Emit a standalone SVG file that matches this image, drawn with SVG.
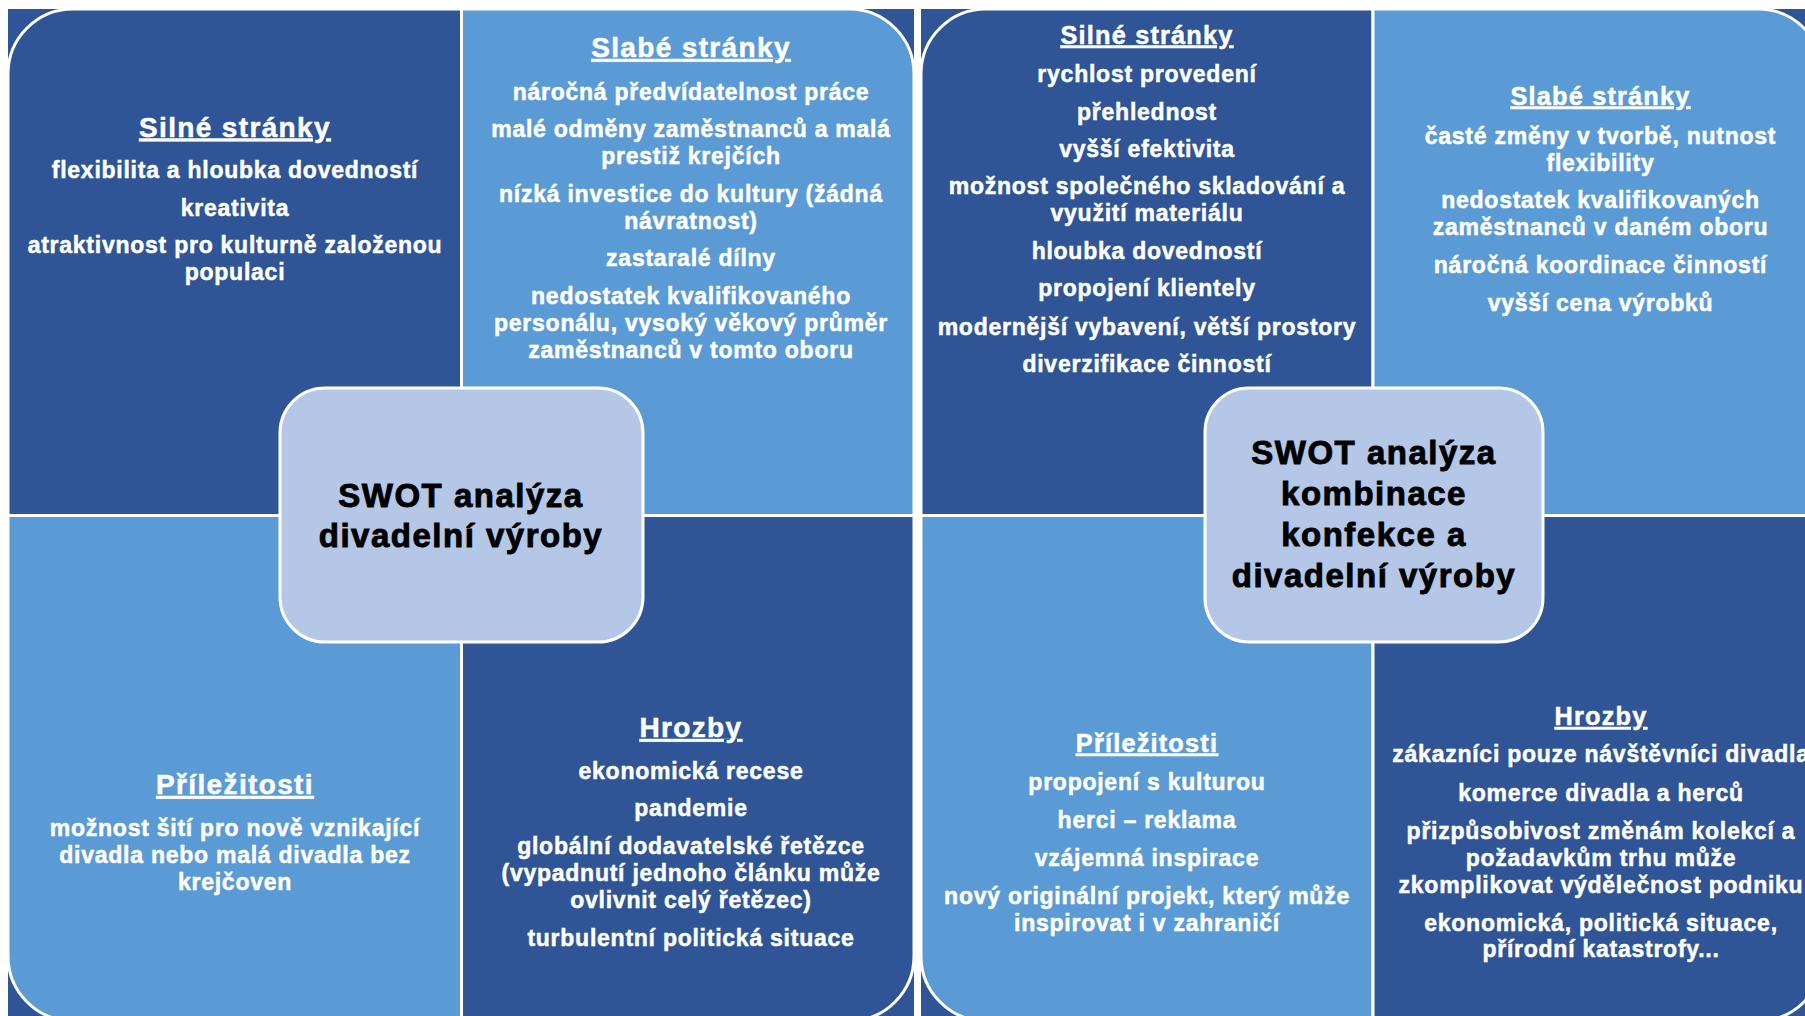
<svg xmlns="http://www.w3.org/2000/svg" width="1805" height="1016" viewBox="0 0 1805 1016">
<style>
.bg{fill:#2F5597}
.dk{fill:#2F5597;stroke:#fff;stroke-width:3}
.lt{fill:#5B9BD5;stroke:#fff;stroke-width:3}
.ctr{fill:#B4C7E7;stroke:#fff;stroke-width:3}
text{font-family:"Liberation Sans",Arial,sans-serif;font-weight:bold;text-anchor:middle}
.h{font-size:28px;letter-spacing:1.35px;fill:#fff;stroke:#fff;stroke-width:0.5px;text-decoration:underline}
.hr{font-size:25.3px;letter-spacing:1.2px}
.b{font-size:23px;letter-spacing:0.75px;fill:#fff;stroke:#fff;stroke-width:0.5px}
.c{font-size:33px;letter-spacing:1.5px;fill:#000;stroke:#000;stroke-width:0.9px}
</style>
<rect width="1805" height="1016" fill="#fff"/>

<g id="panel-left">
<rect class="bg" x="8" y="9" width="906" height="1012"/>
<g id="L-strengths">
<path class="dk" d="M8 74 A65 65 0 0 1 73 9 L461.5 9 L461.5 515.5 L8 515.5 Z"/>
<text class="h" x="235" y="136.5">Silné stránky</text>
<text class="b" x="235" y="178">flexibilita a hloubka dovedností</text>
<text class="b" x="235" y="215.5">kreativita</text>
<text class="b" x="235" y="253">atraktivnost pro kulturně založenou</text>
<text class="b" x="235" y="280">populaci</text>
</g>
<g id="L-weaknesses">
<path class="lt" d="M461.5 9 L849 9 A65 65 0 0 1 914 74 L914 515.5 L461.5 515.5 Z"/>
<text class="h" x="691" y="57">Slabé stránky</text>
<text class="b" x="691" y="100">náročná předvídatelnost práce</text>
<text class="b" x="691" y="137">malé odměny zaměstnanců a malá</text>
<text class="b" x="691" y="164">prestiž krejčích</text>
<text class="b" x="691" y="201.5">nízká investice do kultury (žádná</text>
<text class="b" x="691" y="228.5">návratnost)</text>
<text class="b" x="691" y="266">zastaralé dílny</text>
<text class="b" x="691" y="303.5">nedostatek kvalifikovaného</text>
<text class="b" x="691" y="330.5">personálu, vysoký věkový průměr</text>
<text class="b" x="691" y="357.5">zaměstnanců v tomto oboru</text>
</g>
<g id="L-opportunities">
<path class="lt" d="M8 515.5 L461.5 515.5 L461.5 1021 L73 1021 A65 65 0 0 1 8 956 Z"/>
<text class="h" x="235" y="794">Příležitosti</text>
<text class="b" x="235" y="836">možnost šití pro nově vznikající</text>
<text class="b" x="235" y="862.5">divadla nebo malá divadla bez</text>
<text class="b" x="235" y="889.5">krejčoven</text>
</g>
<g id="L-threats">
<path class="dk" d="M461.5 515.5 L914 515.5 L914 956 A65 65 0 0 1 849 1021 L461.5 1021 Z"/>
<text class="h" x="691" y="737">Hrozby</text>
<text class="b" x="691" y="778.5">ekonomická recese</text>
<text class="b" x="691" y="816">pandemie</text>
<text class="b" x="691" y="854">globální dodavatelské řetězce</text>
<text class="b" x="691" y="881">(vypadnutí jednoho článku může</text>
<text class="b" x="691" y="908">ovlivnit celý řetězec)</text>
<text class="b" x="691" y="945.5">turbulentní politická situace</text>
</g>
<g id="L-center">
<rect class="ctr" x="280" y="388" width="363" height="254" rx="45" ry="45"/>
<text class="c" x="461" y="506.5">SWOT analýza</text>
<text class="c" x="461" y="546.5">divadelní výroby</text>
</g>
</g>

<g id="panel-right">
<rect class="bg" x="921" y="9" width="902" height="1012"/>
<g id="R-strengths">
<path class="dk" d="M921 74 A65 65 0 0 1 986 9 L1373 9 L1373 515.5 L921 515.5 Z"/>
<text class="h hr" x="1147" y="43.5">Silné stránky</text>
<text class="b" x="1147" y="82">rychlost provedení</text>
<text class="b" x="1147" y="119.5">přehlednost</text>
<text class="b" x="1147" y="157">vyšší efektivita</text>
<text class="b" x="1147" y="194">možnost společného skladování a</text>
<text class="b" x="1147" y="221">využití materiálu</text>
<text class="b" x="1147" y="258.5">hloubka dovedností</text>
<text class="b" x="1147" y="296">propojení klientely</text>
<text class="b" x="1147" y="334.5">modernější vybavení, větší prostory</text>
<text class="b" x="1147" y="371.5">diverzifikace činností</text>
</g>
<g id="R-weaknesses">
<path class="lt" d="M1373 9 L1758 9 A65 65 0 0 1 1823 74 L1823 515.5 L1373 515.5 Z"/>
<text class="h hr" x="1600.5" y="104.5">Slabé stránky</text>
<text class="b" x="1600.5" y="143.5">časté změny v tvorbě, nutnost</text>
<text class="b" x="1600.5" y="170.5">flexibility</text>
<text class="b" x="1600.5" y="207.5">nedostatek kvalifikovaných</text>
<text class="b" x="1600.5" y="234.5">zaměstnanců v daném oboru</text>
<text class="b" x="1600.5" y="272.5">náročná koordinace činností</text>
<text class="b" x="1600.5" y="310.5">vyšší cena výrobků</text>
</g>
<g id="R-opportunities">
<path class="lt" d="M921 515.5 L1373 515.5 L1373 1021 L986 1021 A65 65 0 0 1 921 956 Z"/>
<text class="h hr" x="1147" y="751.5">Příležitosti</text>
<text class="b" x="1147" y="790">propojení s kulturou</text>
<text class="b" x="1147" y="828">herci – reklama</text>
<text class="b" x="1147" y="866">vzájemná inspirace</text>
<text class="b" x="1147" y="904">nový originální projekt, který může</text>
<text class="b" x="1147" y="930.5">inspirovat i v zahraničí</text>
</g>
<g id="R-threats">
<path class="dk" d="M1373 515.5 L1823 515.5 L1823 956 A65 65 0 0 1 1758 1021 L1373 1021 Z"/>
<text class="h hr" x="1601" y="725">Hrozby</text>
<text class="b" x="1601" y="762">zákazníci pouze návštěvníci divadla</text>
<text class="b" x="1601" y="800.5">komerce divadla a herců</text>
<text class="b" x="1601" y="838.5">přizpůsobivost změnám kolekcí a</text>
<text class="b" x="1601" y="866">požadavkům trhu může</text>
<text class="b" x="1601" y="892.5">zkomplikovat výdělečnost podniku</text>
<text class="b" x="1601" y="930.5">ekonomická, politická situace,</text>
<text class="b" x="1601" y="957">přírodní katastrofy...</text>
</g>
<g id="R-center">
<rect class="ctr" x="1205" y="388" width="338" height="254" rx="44" ry="44"/>
<text class="c" x="1374" y="464">SWOT analýza</text>
<text class="c" x="1374" y="505">kombinace</text>
<text class="c" x="1374" y="546">konfekce a</text>
<text class="c" x="1374" y="587">divadelní výroby</text>
</g>
</g>
</svg>
